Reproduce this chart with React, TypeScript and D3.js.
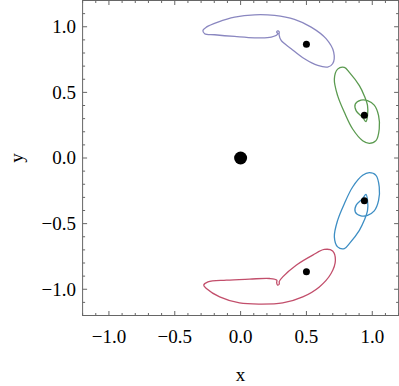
import * as d3 from 'd3'

const W = 399, H = 386
const X0 = 82.6, X1 = 398.6, Y0 = 0.5, Y1 = 315.5

const majorTicks = [-1.0, -0.5, 0.0, 0.5, 1.0]
const minorTicks = [-1.2, -1.1, -0.9, -0.8, -0.7, -0.6, -0.4, -0.3, -0.2, -0.1, 0.1, 0.2, 0.3, 0.4, 0.6, 0.7, 0.8, 0.9, 1.1, 1.2]
const tickLabels = ['−1.0', '−0.5', '0.0', '0.5', '1.0']

// orbit traces (x, y)
const purple: [number, number][] = [
  [0.283, 0.948], [0.233, 0.921], [0.106, 0.916], [-0.045, 0.926], [-0.197, 0.939],
  [-0.273, 0.947], [-0.286, 0.972], [-0.26, 0.997], [-0.172, 1.035], [-0.045, 1.073],
  [0.106, 1.091], [0.258, 1.086], [0.409, 1.056], [0.536, 0.997], [0.649, 0.909],
  [0.707, 0.807], [0.699, 0.718], [0.661, 0.693], [0.586, 0.705], [0.485, 0.756],
  [0.384, 0.833], [0.308, 0.896], [0.292, 0.94], [0.293, 0.962], [0.281, 0.968], [0.274, 0.958],
]
const red: [number, number][] = [
  [0.275, -0.931], [0.22, -0.918], [0.068, -0.923], [-0.108, -0.931], [-0.248, -0.944],
  [-0.28, -0.969], [-0.26, -0.994], [-0.159, -1.058], [-0.008, -1.104], [0.144, -1.113],
  [0.32, -1.104], [0.472, -1.058], [0.598, -0.982], [0.687, -0.88], [0.72, -0.779],
  [0.699, -0.708], [0.636, -0.697], [0.548, -0.74], [0.422, -0.817], [0.32, -0.906],
  [0.294, -0.94], [0.293, -0.962], [0.281, -0.968], [0.274, -0.952],
]
const green: [number, number][] = [
  [0.826, 0.652], [0.902, 0.551], [0.939, 0.475], [0.964, 0.399], [0.964, 0.323],
  [0.952, 0.277], [0.927, 0.31], [0.877, 0.361], [0.871, 0.411], [0.914, 0.441],
  [0.964, 0.437], [1.015, 0.403], [1.048, 0.323], [1.053, 0.221], [1.028, 0.132],
  [0.977, 0.112], [0.927, 0.132], [0.851, 0.221], [0.788, 0.348], [0.737, 0.475],
  [0.712, 0.601], [0.737, 0.677], [0.788, 0.69],
]
const blue: [number, number][] = [
  [0.826, -0.652], [0.902, -0.551], [0.939, -0.475], [0.964, -0.399], [0.964, -0.323],
  [0.952, -0.277], [0.927, -0.31], [0.877, -0.361], [0.871, -0.411], [0.914, -0.441],
  [0.964, -0.437], [1.015, -0.403], [1.048, -0.323], [1.053, -0.221], [1.028, -0.132],
  [0.977, -0.112], [0.927, -0.132], [0.851, -0.221], [0.788, -0.348], [0.737, -0.475],
  [0.712, -0.601], [0.737, -0.677], [0.788, -0.69],
]
const orbits = [
  { pts: purple, color: '#8a87c0' },
  { pts: green, color: '#5a9a4f' },
  { pts: blue, color: '#3d8ec4' },
  { pts: red, color: '#c24e6b' },
]
const bodies: [number, number, number][] = [
  [0, 0, 6.5], [0.5, 0.866, 3.5], [0.94, 0.325, 3.5], [0.94, -0.325, 3.5], [0.5, -0.866, 3.5],
]

const x = d3.scaleLinear().domain([-1.2, 1.2]).range([X0, X1])
const y = d3.scaleLinear().domain([-1.2, 1.2]).range([Y1, Y0])
const line = d3.line<[number, number]>()
  .x(d => x(d[0])).y(d => y(d[1]))
  .curve(d3.curveCatmullRomClosed.alpha(0.5))

const FONT = '"Liberation Serif", "Times New Roman", serif'
const AX = '#666'

export default function App() {
  const ticks = [
    ...majorTicks.map(v => ({ v, len: 4.5 })),
    ...minorTicks.map(v => ({ v, len: 2.5 })),
  ]
  return (
    <svg width={W} height={H} style={{ position: 'absolute', left: 0, top: 0, background: '#fff' }}>
      {orbits.map((o, i) => (
        <path key={i} d={line(o.pts) ?? ''} fill="none" stroke={o.color} strokeWidth={1.3} />
      ))}
      {bodies.map((b, i) => (
        <circle key={i} cx={x(b[0])} cy={y(b[1])} r={b[2]} fill="#000" />
      ))}

      <rect x={X0} y={Y0} width={X1 - X0} height={Y1 - Y0} fill="none" stroke={AX} strokeWidth={1} />
      {ticks.map((t, i) => (
        <g key={i} stroke={AX} strokeWidth={1}>
          <line x1={x(t.v)} x2={x(t.v)} y1={Y1} y2={Y1 - t.len} />
          <line x1={x(t.v)} x2={x(t.v)} y1={Y0} y2={Y0 + t.len} />
          <line x1={X0} x2={X0 + t.len} y1={y(t.v)} y2={y(t.v)} />
          <line x1={X1} x2={X1 - t.len} y1={y(t.v)} y2={y(t.v)} />
        </g>
      ))}

      {majorTicks.map((v, i) => (
        <text key={'x' + i} x={x(v)} y={343} textAnchor="middle" fontFamily={FONT} fontSize={19} fill="#000">
          {tickLabels[i]}
        </text>
      ))}
      {majorTicks.map((v, i) => (
        <text key={'y' + i} x={76} y={y(v)} dy="0.34em" textAnchor="end" fontFamily={FONT} fontSize={19} fill="#000">
          {tickLabels[i]}
        </text>
      ))}

      <text x={x(0)} y={381} textAnchor="middle" fontFamily={FONT} fontSize={19} fill="#000">x</text>
      <text transform={`translate(23,${y(0)}) rotate(-90)`} textAnchor="middle" fontFamily={FONT} fontSize={19} fill="#000">y</text>
    </svg>
  )
}
